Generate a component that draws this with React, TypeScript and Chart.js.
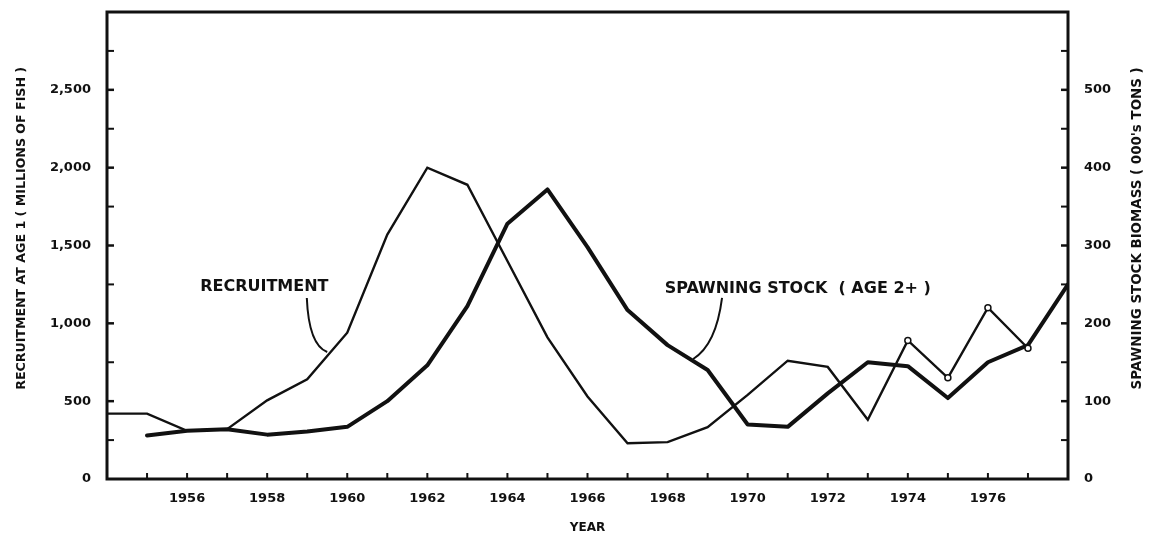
import React, { useEffect, useRef } from "react";
import { Chart, registerables } from "chart.js";

Chart.register(...registerables);

// ---- Data ----
const years = [
  1954, 1955, 1956, 1957, 1958, 1959, 1960, 1961, 1962, 1963, 1964, 1965,
  1966, 1967, 1968, 1969, 1970, 1971, 1972, 1973, 1974, 1975, 1976, 1977, 1978,
];
// Recruitment at age 1 (millions of fish) - left axis
const recruitment = [
  420, 420, 310, 320, 505, 640, 940, 1570, 2000, 1890, 1400, 910,
  530, 230, 237, 333, 540, 760, 720, 380, 890, 650, 1100, 840, null,
];
// Spawning stock biomass (000's tons) - right axis
const spawningStock = [
  null, 56, 62, 64, 57, 61, 67, 100, 146, 222, 328, 372,
  298, 217, 172, 140, 70, 67, 110, 150, 145, 104, 150, 172, 250,
];
// Years where the recruitment line carries small circle markers
const markedYears = [1974, 1975, 1976, 1977];

const xTickYears = [1956, 1958, 1960, 1962, 1964, 1966, 1968, 1970, 1972, 1974, 1976];
const leftTickValues = [0, 500, 1000, 1500, 2000, 2500];
const rightTickValues = [0, 100, 200, 300, 400, 500];

const FONT = "'DejaVu Sans', sans-serif";

export default function App() {
  const ref = useRef<HTMLCanvasElement | null>(null);

  useEffect(() => {
    if (!ref.current) return;
    const INK = "#111111";

    const framePlugin = {
      id: "framePlugin",
      afterDraw(chart: any) {
        const { ctx, chartArea: a, scales } = chart;
        const x = scales.x;
        const yl = scales.yLeft;
        const yr = scales.yRight;
        ctx.save();
        ctx.strokeStyle = INK;
        ctx.lineCap = "butt";
        // inner ticks on x axis (every year)
        ctx.lineWidth = 2;
        for (let yr0 = 1955; yr0 <= 1977; yr0++) {
          const px = x.getPixelForValue(yr0);
          ctx.beginPath();
          ctx.moveTo(px, a.bottom);
          ctx.lineTo(px, a.bottom - 6);
          ctx.stroke();
        }
        // left axis ticks every 250
        for (let v = 250; v < 3000; v += 250) {
          const py = yl.getPixelForValue(v);
          ctx.lineWidth = v % 500 === 0 ? 2.5 : 2;
          ctx.beginPath();
          ctx.moveTo(a.left, py);
          ctx.lineTo(a.left + 7, py);
          ctx.stroke();
        }
        // right axis ticks every 50
        for (let v = 50; v < 600; v += 50) {
          const py = yr.getPixelForValue(v);
          ctx.lineWidth = v % 100 === 0 ? 2.5 : 2;
          ctx.beginPath();
          ctx.moveTo(a.right, py);
          ctx.lineTo(a.right - 7, py);
          ctx.stroke();
        }
        // frame
        ctx.lineWidth = 3;
        ctx.strokeRect(a.left, a.top, a.right - a.left, a.bottom - a.top);

        // annotations
        ctx.fillStyle = INK;
        ctx.font = `bold 16px ${FONT}`;
        ctx.textAlign = "center";
        ctx.textBaseline = "middle";
        ctx.fillText("RECRUITMENT", x.getPixelForValue(1957.93), yl.getPixelForValue(1233));
        ctx.fillText("SPAWNING STOCK  ( AGE 2+ )", x.getPixelForValue(1971.25), yl.getPixelForValue(1220));

        ctx.lineWidth = 2;
        ctx.beginPath();
        ctx.moveTo(x.getPixelForValue(1958.99), yl.getPixelForValue(1163));
        ctx.quadraticCurveTo(
          x.getPixelForValue(1959.04), yl.getPixelForValue(861),
          x.getPixelForValue(1959.5), yl.getPixelForValue(816)
        );
        ctx.stroke();
        ctx.beginPath();
        ctx.moveTo(x.getPixelForValue(1969.36), yl.getPixelForValue(1163));
        ctx.quadraticCurveTo(
          x.getPixelForValue(1969.21), yl.getPixelForValue(861),
          x.getPixelForValue(1968.64), yl.getPixelForValue(771)
        );
        ctx.stroke();

        // axis titles
        const midY = yl.getPixelForValue(1610);
        ctx.font = `bold 12.6px ${FONT}`;
        ctx.save();
        ctx.translate(a.left - 85, midY);
        ctx.rotate(-Math.PI / 2);
        ctx.fillText("RECRUITMENT AT AGE 1 ( MILLIONS OF FISH )", 0, 0);
        ctx.restore();
        ctx.font = `bold 13.4px ${FONT}`;
        ctx.save();
        ctx.translate(a.right + 70, midY);
        ctx.rotate(-Math.PI / 2);
        ctx.fillText("SPAWNING STOCK BIOMASS ( 000's TONS )", 0, 0);
        ctx.restore();
        ctx.font = `bold 12px ${FONT}`;
        ctx.fillText("YEAR", x.getPixelForValue(1966.0), a.bottom + 49);
        ctx.restore();
      },
    };

    const chart = new Chart(ref.current, {
      type: "line",
      data: {
        datasets: [
          {
            label: "Recruitment",
            data: years.map((yr, i) => ({ x: yr, y: recruitment[i] })),
            yAxisID: "yLeft",
            borderColor: INK,
            borderWidth: 2.4,
            pointRadius: years.map((yr) => (markedYears.includes(yr) ? 3 : 0)),
            pointBackgroundColor: "#ffffff",
            pointBorderColor: INK,
            pointBorderWidth: 1.5,
            tension: 0,
            spanGaps: false,
          },
          {
            label: "Spawning stock",
            data: years.map((yr, i) => ({ x: yr, y: spawningStock[i] })),
            yAxisID: "yRight",
            borderColor: INK,
            borderWidth: 4,
            pointRadius: 0,
            tension: 0,
            borderCapStyle: "round",
            borderJoinStyle: "round",
          },
        ],
      },
      options: {
        animation: false,
        responsive: false,
        maintainAspectRatio: false,
        layout: { padding: { top: 0, left: 0, right: 0, bottom: 0 } },
        plugins: {
          legend: { display: false },
          tooltip: { enabled: false },
          title: { display: false },
        },
        scales: {
          x: {
            type: "linear",
            min: 1954,
            max: 1978,
            afterBuildTicks: (s: any) => {
              s.ticks = xTickYears.map((v) => ({ value: v }));
            },
            afterFit: (s: any) => {
              s.height = 63;
            },
            grid: { display: false, drawTicks: false },
            border: { display: false },
            ticks: {
              color: INK,
              padding: 12,
              autoSkip: false,
              maxRotation: 0,
              font: { family: FONT, weight: "bold", size: 13 },
              callback: (v: any) => String(v),
            },
          },
          yLeft: {
            type: "linear",
            position: "left",
            min: 0,
            max: 3000,
            afterBuildTicks: (s: any) => {
              s.ticks = leftTickValues.map((v) => ({ value: v }));
            },
            afterFit: (s: any) => {
              s.width = 107;
              s.paddingTop = 12;
            },
            grid: { display: false, drawTicks: false },
            border: { display: false },
            ticks: {
              color: INK,
              padding: 16,
              font: { family: FONT, weight: "bold", size: 13 },
              callback: (v: any) => Number(v).toLocaleString("en-US"),
            },
          },
          yRight: {
            type: "linear",
            position: "right",
            min: 0,
            max: 600,
            afterBuildTicks: (s: any) => {
              s.ticks = rightTickValues.map((v) => ({ value: v }));
            },
            afterFit: (s: any) => {
              s.width = 83;
              s.paddingTop = 12;
            },
            grid: { display: false, drawTicks: false },
            border: { display: false },
            ticks: {
              color: INK,
              padding: 16,
              font: { family: FONT, weight: "bold", size: 13 },
              callback: (v: any) => String(v),
            },
          },
        },
      },
      plugins: [framePlugin],
    } as any);

    return () => chart.destroy();
  }, []);

  return (
    <div
      style={{
        position: "fixed",
        left: 0,
        top: 0,
        width: 1151,
        height: 542,
        background: "#ffffff",
      }}
    >
      <canvas ref={ref} width={1151} height={542} style={{ display: "block" }} />
    </div>
  );
}
